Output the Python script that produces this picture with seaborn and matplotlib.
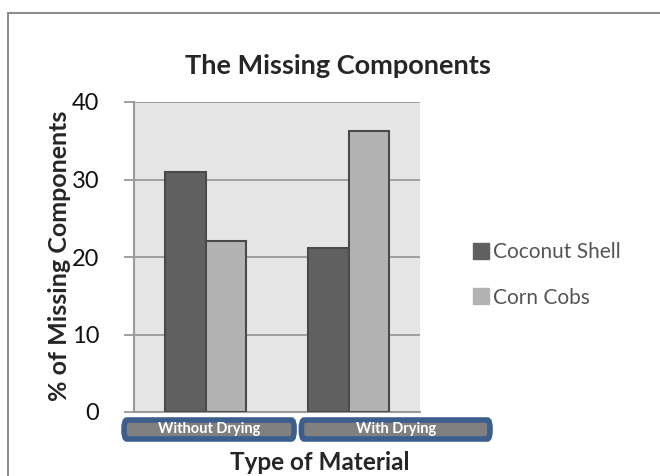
import matplotlib
matplotlib.use('Agg')
import matplotlib.pyplot as plt
import seaborn as sns
import pandas as pd
from matplotlib.patches import FancyBboxPatch
from matplotlib.lines import Line2D
from matplotlib.transforms import blended_transform_factory

# Datos
categorias = ['Without Drying', 'With Drying']
series = ['Coconut Shell', 'Corn Cobs']
coconut_shell = [31.0, 21.2]
corn_cobs = [22.1, 36.3]
ticks_y = [0, 10, 20, 30, 40]

df = pd.DataFrame({
    'tipo': categorias * 2,
    'material': [series[0]] * 2 + [series[1]] * 2,
    'valor': coconut_shell + corn_cobs,
})

sns.set_theme(style='white')
plt.rcParams['font.family'] = ['Lato', 'DejaVu Sans']

fig = plt.figure(figsize=(6.6, 4.76), dpi=100)
ax = fig.add_axes([134 / 660, 1 - 412 / 476, 286 / 660, 310 / 476])

colores = ['#606060', '#b3b3b3']
sns.barplot(data=df, x='tipo', y='valor', hue='material', order=categorias,
            hue_order=series, palette=colores, width=0.57,
            edgecolor='#4a4a4a', linewidth=1.5, ax=ax, legend=False,
            zorder=3)

ax.set_facecolor('#e6e6e6')
ax.set_ylim(0, 40)
ax.set_xlim(-0.5, 1.5)
ax.set_yticks(ticks_y)
ax.set_yticklabels([str(t) for t in ticks_y], fontsize=17, color='#111111')
ax.yaxis.grid(True, color='#9a9a9a', linewidth=1.3, zorder=0)
ax.set_axisbelow(True)
ax.tick_params(axis='y', length=7, width=1.3, color='#9a9a9a', pad=18, left=True)
ax.tick_params(axis='x', length=0, labelbottom=False)
for s in ['top', 'right']:
    ax.spines[s].set_visible(False)
for s in ['left', 'bottom']:
    ax.spines[s].set_color('#9a9a9a')
    ax.spines[s].set_linewidth(1.5)
ax.set_xlabel('')
ax.set_ylabel('')

# Cajas de las etiquetas de categoría
trans = blended_transform_factory(ax.transData, fig.transFigure)
cajas = [(-0.57, 0.62), (-0.33, 0.99)]
for i, (nombre, (a, b)) in enumerate(zip(categorias, cajas)):
    caja = FancyBboxPatch((i + a, 1 - 439 / 476), b - a, 19 / 476,
                          boxstyle='round,pad=0,rounding_size=0.02',
                          facecolor='#808080', edgecolor='#3b5e8c',
                          linewidth=4, transform=trans, clip_on=False)
    fig.add_artist(caja)
    fig.text(i + (a + b) / 2, 1 - 429 / 476, nombre, transform=trans,
             ha='center', va='center', color='white', fontsize=10.5,
             fontweight='bold')

fig.text(320 / 660, 1 - 462 / 476, 'Type of Material', ha='center',
         va='center', fontsize=17.5, fontweight='bold')
fig.text(60 / 660, 1 - 256 / 476, '% of Missing Components', ha='center',
         va='center', rotation=90, fontsize=18, fontweight='bold')
fig.text(338 / 660, 1 - 66 / 476, 'The Missing Components', ha='center',
         va='center', fontsize=19.5, fontweight='bold')

handles = [Line2D([], [], marker='s', linestyle='', markersize=11,
                  markerfacecolor=c, markeredgecolor=c)
           for c in colores]
leg = fig.legend(handles, series, loc='center left',
                 bbox_to_anchor=(452 / 660, 1 - 275 / 476), frameon=False,
                 fontsize=15, handletextpad=0.05, labelspacing=1.2,
                 handlelength=1.0)
for t in leg.get_texts():
    t.set_color('#555555')

# Marco exterior (solo borde superior e izquierdo visibles)
fig.add_artist(Line2D([8 / 660, 1], [1 - 13 / 476, 1 - 13 / 476],
                      color='#8c8c8c', linewidth=1.5, transform=fig.transFigure))
fig.add_artist(Line2D([8 / 660, 8 / 660], [0, 1 - 13 / 476],
                      color='#8c8c8c', linewidth=1.5, transform=fig.transFigure))

fig.savefig('out.png', dpi=100)
